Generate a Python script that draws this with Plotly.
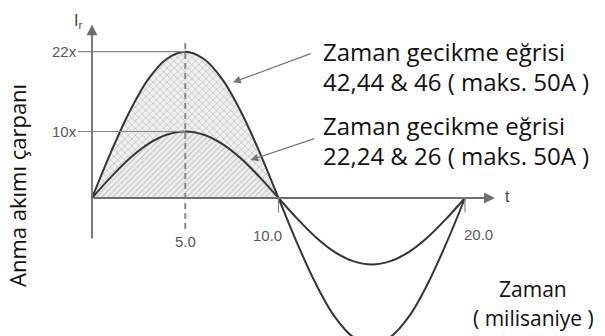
import plotly.graph_objects as go

# time (ms) and current multiples
t_ms = [0, 1, 2, 3, 4, 5, 6, 7, 8, 9, 10, 11, 12, 13, 14, 15, 16, 17, 18, 19, 20]
curve_42 = [0, 6.8, 12.9, 17.8, 20.9, 22, 20.9, 17.8, 12.9, 6.8, 0,
            -6.8, -12.9, -17.8, -20.9, -22, -20.9, -17.8, -12.9, -6.8, 0]
curve_22 = [0, 3.1, 5.9, 8.1, 9.5, 10, 9.5, 8.1, 5.9, 3.1, 0,
            -3.1, -5.9, -8.1, -9.5, -10, -9.5, -8.1, -5.9, -3.1, 0]
y_ticks = [22, 10]
y_tick_text = ["22x", "10x"]
x_ticks = [5, 10, 20]
x_tick_text = ["5.0", "10.0", "20.0"]
label_42 = ["Zaman gecikme eğrisi", "42,44 & 46 ( maks. 50A )"]
label_22 = ["Zaman gecikme eğrisi", "22,24 & 26 ( maks. 50A )"]
y_title = "Anma akımı çarpanı"
x_title = ["Zaman", "( milisaniye )"]

W, H = 605, 336
OFF = 8                 # page body margin
X0, XS = 92, 18.65      # pixel of t=0, pixels per ms
Y0, YS = 198, 6.65      # pixel of zero line, pixels per unit
LINE = "#353535"
AXIS = "#6e6e6e"
GREY_TXT = "#5a5a5a"
TXT_FONT = "Open Sans"
TICK_FONT = "Liberation Sans"


def px(x):
    return (x - OFF) / W


def py(y):
    return 1 - (y - OFF) / H


half = 11  # first half-wave is shaded

fig = go.Figure()
fig.add_trace(go.Scatter(
    x=t_ms[:half], y=curve_22[:half], mode="lines", line=dict(width=0, shape="spline"),
    fill="tozeroy", fillcolor="rgba(0,0,0,0)",
    fillpattern=dict(shape="/", fgcolor="#9a9a9a", bgcolor="#f0f0f0", size=4, solidity=0.3),
    hoverinfo="skip"))
fig.add_trace(go.Scatter(
    x=t_ms[:half], y=curve_42[:half], mode="lines", line=dict(width=0, shape="spline"),
    fill="tonexty", fillcolor="rgba(0,0,0,0)",
    fillpattern=dict(shape="x", fgcolor="#9a9a9a", bgcolor="#f0f0f0", size=5, solidity=0.3),
    hoverinfo="skip"))

# horizontal reference lines for the y ticks
for v in y_ticks:
    fig.add_shape(type="line", x0=-0.75, x1=5, y0=v, y1=v, line=dict(color="#8a8a8a", width=1.2))
# dashed line at the peak
fig.add_shape(type="line", x0=5, x1=5, y0=23.3, y1=-5.2, line=dict(color="#8a8a8a", width=2, dash="6px,4px"))
# tick marks below the axis
for v in x_ticks[1:]:
    fig.add_shape(type="line", x0=v, x1=v, y0=0, y1=-2.2, line=dict(color="#8a8a8a", width=1.2))

for ys in (curve_42, curve_22):
    fig.add_trace(go.Scatter(x=t_ms, y=ys, mode="lines",
                             line=dict(color=LINE, width=2, shape="spline"), hoverinfo="skip"))

ann = []
# axes with arrow heads
ann.append(dict(x=21.6, y=0, ax=0, ay=0, axref="x", ayref="y", xref="x", yref="y", text="",
                showarrow=True, arrowhead=2, arrowsize=1.2, arrowwidth=1.8, arrowcolor=AXIS))
ann.append(dict(x=0, y=26.1, ax=0, ay=-6.3, axref="x", ayref="y", xref="x", yref="y", text="",
                showarrow=True, arrowhead=2, arrowsize=1.2, arrowwidth=1.8, arrowcolor=AXIS))
# tick labels
for v, s in zip(y_ticks, y_tick_text):
    ann.append(dict(x=-1.5, y=v, xref="x", yref="y", text=s, showarrow=False, xanchor="center",
                    font=dict(family=TICK_FONT, size=15, color=GREY_TXT)))
for v, s, dx, yy in zip(x_ticks, x_tick_text, [0, -0.6, 0.7], [-6.6, -5.7, -5.5]):
    ann.append(dict(x=v + dx, y=yy, xref="x", yref="y", text=s, showarrow=False,
                    font=dict(family=TICK_FONT, size=15, color=GREY_TXT)))
ann.append(dict(x=-0.75, y=26.6, xref="x", yref="y", text="I<sub>r</sub>", showarrow=False,
                font=dict(family=TICK_FONT, size=16, color="#444")))
ann.append(dict(x=22.3, y=0.2, xref="x", yref="y", text="t", showarrow=False,
                font=dict(family=TICK_FONT, size=16, color="#444")))
# callouts
ann.append(dict(x=7.56, y=17.4, ax=11.8, ay=21.8, axref="x", ayref="y", xref="x", yref="y", text="",
                showarrow=True, arrowhead=2, arrowsize=1.3, arrowwidth=1.2, arrowcolor="#777"))
ann.append(dict(x=8.5, y=5.7, ax=12.0, ay=9.0, axref="x", ayref="y", xref="x", yref="y", text="",
                showarrow=True, arrowhead=2, arrowsize=1.3, arrowwidth=1.2, arrowcolor="#777"))
for lines, ys in ((label_42, (52, 81)), (label_22, (126, 155))):
    for s, yy in zip(lines, ys):
        ann.append(dict(x=px(321), y=py(yy), xref="paper", yref="paper", text=s, showarrow=False,
                        xanchor="left", yanchor="middle",
                        font=dict(family=TXT_FONT, size=24, color="#111")))
for s, yy in zip(x_title, (289, 318)):
    ann.append(dict(x=px(533), y=py(yy), xref="paper", yref="paper", text=s, showarrow=False,
                    xanchor="center", yanchor="middle",
                    font=dict(family=TXT_FONT, size=21, color="#111")))
ann.append(dict(x=px(17), y=py(186), xref="paper", yref="paper", text=y_title, showarrow=False,
                textangle=-90, xanchor="center", yanchor="middle",
                font=dict(family=TXT_FONT, size=22, color="#111")))

fig.update_layout(
    width=W, height=H, margin=dict(l=0, r=0, t=0, b=0),
    paper_bgcolor="white", plot_bgcolor="white", showlegend=False,
    xaxis=dict(range=[(OFF - X0) / XS, (W + OFF - X0) / XS], visible=False, fixedrange=True),
    yaxis=dict(range=[(Y0 - H - OFF) / YS, (Y0 - OFF) / YS], visible=False, fixedrange=True),
    annotations=ann,
)
fig.write_html("out.html")
